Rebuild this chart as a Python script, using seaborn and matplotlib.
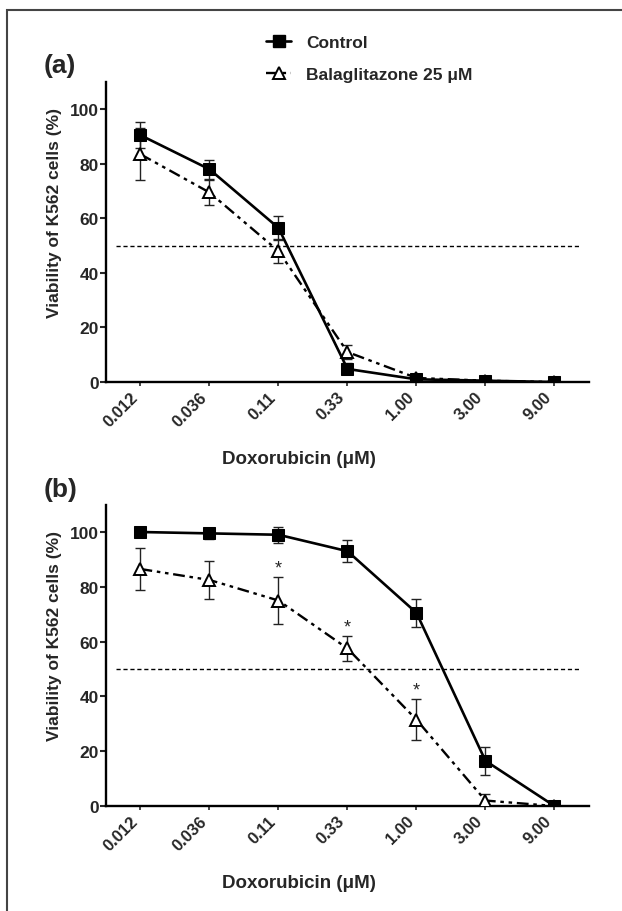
import numpy as np
import pandas as pd
import matplotlib
matplotlib.use("Agg")
import matplotlib.pyplot as plt
from matplotlib.patches import Rectangle
from matplotlib.lines import Line2D
import seaborn as sns

# doxorubicin concentrations (uM)
conc = ["0.012", "0.036", "0.11", "0.33", "1.00", "3.00", "9.00"]

# panel (a)
ctrl_a = [90.5, 78.0, 56.5, 4.8, 1.0, 0.5, 0.0]
ctrl_a_err = [4.7, 3.5, 4.5, 2.0, 1.0, 0.5, 0.3]
bala_a = [83.5, 69.5, 48.0, 11.0, 1.5, 0.5, 0.0]
bala_a_err = [9.5, 4.5, 4.5, 2.5, 1.0, 0.5, 0.3]

# panel (b)
ctrl_b = [100.0, 99.5, 99.0, 93.0, 70.5, 16.5, 0.0]
ctrl_b_err = [1.0, 2.0, 3.0, 4.0, 5.0, 5.0, 0.5]
bala_b = [86.5, 82.5, 75.0, 57.5, 31.5, 2.0, 0.0]
bala_b_err = [7.5, 7.0, 8.5, 4.5, 7.5, 2.5, 0.3]
sig_b = ["0.11", "0.33", "1.00"]

sns.set_style("white")
plt.rcParams["font.family"] = ["Liberation Sans", "DejaVu Sans"]
plt.rcParams["font.weight"] = "bold"

dashdotdot = (0, (5, 2, 1.5, 2, 1.5, 2))

fig = plt.figure(figsize=(6.22, 9.12), dpi=100)
ax_a = fig.add_axes([0.1704, 0.580, 0.7765, 0.329])
ax_b = fig.add_axes([0.1704, 0.1151, 0.7765, 0.3305])


def panel(ax, ctrl, ctrl_err, bala, bala_err):
    df = pd.DataFrame({"conc": conc, "ctrl": ctrl, "bala": bala})
    ax.errorbar(conc, bala, yerr=bala_err, fmt="none", ecolor="#222222",
                elinewidth=1, capsize=3.5, capthick=1, zorder=2)
    ax.errorbar(conc, ctrl, yerr=ctrl_err, fmt="none", ecolor="#222222",
                elinewidth=1, capsize=3.5, capthick=1, zorder=2)
    sns.lineplot(data=df, x="conc", y="bala", ax=ax, sort=False, color="black",
                 lw=1.7, linestyle=dashdotdot, marker="^", ms=9,
                 markerfacecolor="white", markeredgecolor="black",
                 markeredgewidth=1.4, zorder=3)
    sns.lineplot(data=df, x="conc", y="ctrl", ax=ax, sort=False, color="black",
                 lw=1.9, marker="s", ms=8, markeredgecolor="black", zorder=4)
    ax.axhline(50, 0.02, 0.98, color="black", lw=1, ls=(0, (3, 2)), zorder=1)
    ax.set_xlim(-0.5, 6.5)
    ax.set_ylim(0, 110)
    ax.set_yticks(np.arange(0, 101, 20))
    ax.set_xticks(range(len(conc)))
    ax.set_xticklabels(conc, rotation=45, ha="right", fontsize=12, fontweight="bold")
    ax.tick_params(axis="y", labelsize=12.5, length=4, width=1.5, pad=1, direction="out", left=True)
    ax.tick_params(axis="x", length=3, width=1.2, pad=2, direction="out", bottom=True)
    for lab in ax.get_yticklabels():
        lab.set_fontweight("bold")
    sns.despine(ax=ax)
    for s in ["left", "bottom"]:
        ax.spines[s].set_linewidth(1.7)
        ax.spines[s].set_color("black")
    ax.set_xlabel("Doxorubicin (\u03bcM)", fontsize=13.5, fontweight="bold")
    ax.set_ylabel("Viability of K562 cells (%)", fontsize=12.5, fontweight="bold")
    ax.xaxis.set_label_coords(0.40, -0.225)
    ax.yaxis.set_label_coords(-0.092, 0.566)
    ax.grid(False)


panel(ax_a, ctrl_a, ctrl_a_err, bala_a, bala_a_err)
panel(ax_b, ctrl_b, ctrl_b_err, bala_b, bala_b_err)

for c in sig_b:
    i = conc.index(c)
    ax_b.text(i, bala_b[i] + bala_b_err[i] + 0.3, "*", ha="center", va="bottom",
              fontsize=13, fontweight="normal")

fig.text(44 / 622, 1 - 66 / 912, "(a)", fontsize=19, fontweight="bold", va="center")
fig.text(44 / 622, 1 - 490 / 912, "(b)", fontsize=19, fontweight="bold", va="center")

handles = [
    Line2D([], [], color="black", lw=1.9, marker="s", ms=8),
    Line2D([], [], color="black", lw=1.7, ls=dashdotdot, marker="^", ms=9,
           markerfacecolor="white", markeredgewidth=1.4),
]
fig.legend(handles, ["Control", "Balaglitazone 25 \u03bcM"], loc="upper left",
           bbox_to_anchor=(266 / 622, 1 - 36 / 912), frameon=False,
           prop={"size": 12.5, "weight": "bold"}, handlelength=1.45,
           handletextpad=0.85, labelspacing=0.95, borderpad=0, borderaxespad=0)

fig.patches.append(Rectangle((7 / 622, -0.05), 1.2, 1 - 11 / 912 + 0.05,
                             transform=fig.transFigure, fill=False,
                             edgecolor="#444444", lw=1.5))

fig.savefig("out.png", dpi=100)
